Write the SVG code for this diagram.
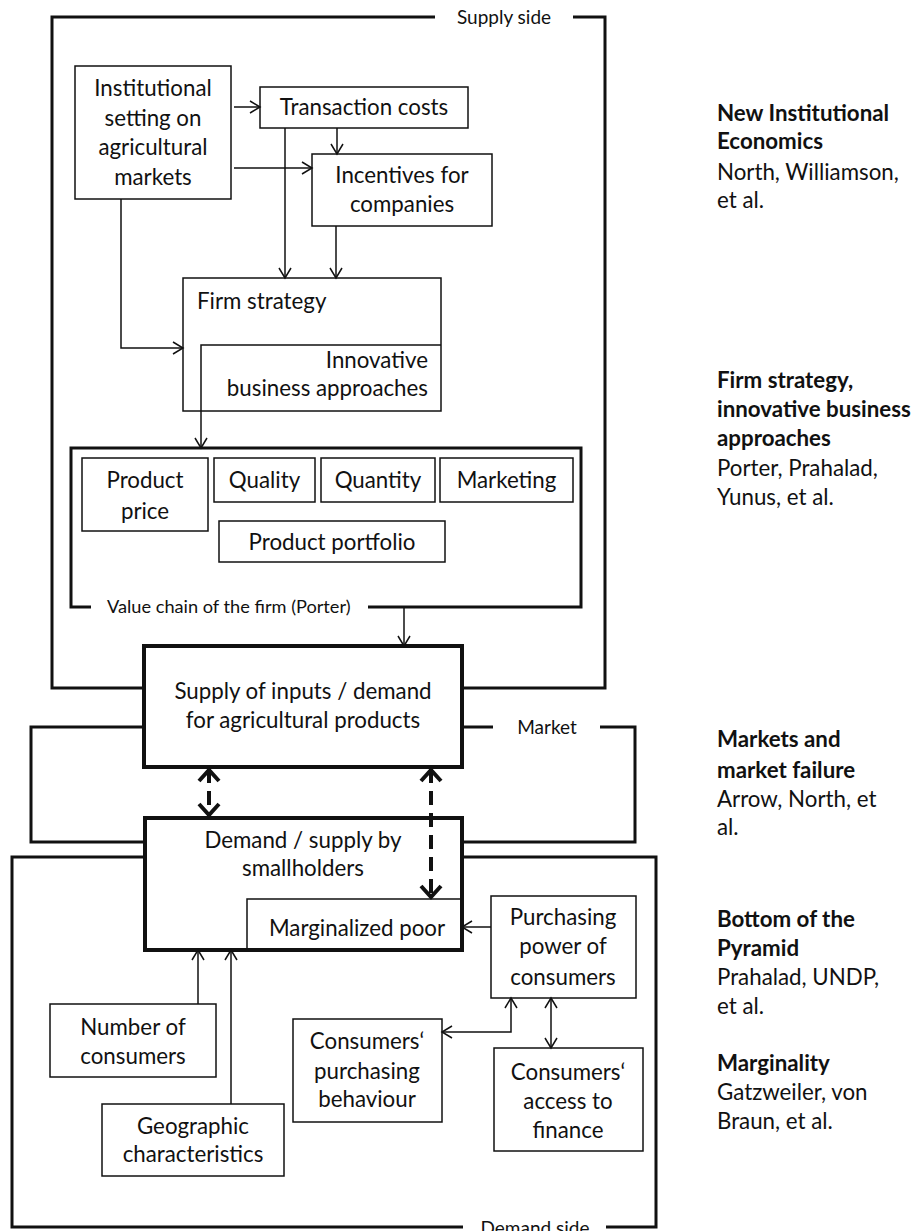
<svg xmlns="http://www.w3.org/2000/svg" width="921" height="1231" viewBox="0 0 921 1231">
<style>
text{font-family:Lato,"Open Sans","Liberation Sans",sans-serif;fill:#111;}
.t{font-size:22.3px;text-anchor:middle;}
.l{font-size:22.3px;}
.r{font-size:22.3px;text-anchor:end;}
.b{font-size:22.3px;font-weight:bold;}
.s{font-size:19px;}
.box{fill:#fff;stroke:#111;stroke-width:1.5;}
.bold{fill:#fff;stroke:#111;stroke-width:4;}
.frame{fill:none;stroke:#111;stroke-width:3;}
.c{fill:none;stroke:#111;stroke-width:1.5;}
.cd{fill:none;stroke:#111;stroke-width:4;stroke-dasharray:14 8;}
</style>
<defs>
<marker id="ah" viewBox="-12 -8 14 16" refX="0" refY="0" markerWidth="14" markerHeight="16" markerUnits="userSpaceOnUse" orient="auto-start-reverse">
<path d="M-10,-6 L0,0 L-10,6" fill="none" stroke="#111" stroke-width="1.5"/>
</marker>
<marker id="ahb" viewBox="-16 -15 20 30" refX="0" refY="0" markerWidth="20" markerHeight="30" markerUnits="userSpaceOnUse" orient="auto-start-reverse">
<path d="M-12,-10 L-1,0 L-12,10" fill="none" stroke="#111" stroke-width="4"/>
</marker>
</defs>

<g id="frames">
<path class="frame" d="M435,17 H52 V688 H144 M573,17 H605 V688 H462"/>
<text class="s" x="504" y="24" text-anchor="middle">Supply side</text>
<path class="frame" d="M144,727 H31 V842 H145 M462,727 H493 M600,727 H635 V842 H462"/>
<text class="s" x="547" y="734" text-anchor="middle">Market</text>
<path class="frame" d="M145,857 H12 V1227 H463 M606,1227 H656 V857 H462"/>
<text class="s" x="535" y="1235" text-anchor="middle">Demand side</text>
</g>

<g id="institutional">
<rect class="box" x="75" y="66" width="156" height="133"/>
<text class="t" x="153" y="96">Institutional</text>
<text class="t" x="153" y="126">setting on</text>
<text class="t" x="153" y="155">agricultural</text>
<text class="t" x="153" y="185">markets</text>
</g>
<g id="transaction">
<rect class="box" x="260" y="87" width="208" height="41"/>
<text class="t" x="364" y="115">Transaction costs</text>
</g>
<g id="incentives">
<rect class="box" x="312" y="154" width="180" height="72"/>
<text class="t" x="402" y="183">Incentives for</text>
<text class="t" x="402" y="212">companies</text>
</g>
<g id="firm-strategy">
<rect class="box" x="183" y="278" width="258" height="133"/>
<text class="l" x="197" y="309">Firm strategy</text>
<path class="c" d="M201,411 V345 H441"/>
<text class="r" x="428" y="368">Innovative</text>
<text class="r" x="428" y="396">business approaches</text>
</g>
<g id="value-chain">
<path class="frame" d="M91,607 H71 V448 H581 V607 H368"/>
<text x="107" y="613" style="font-size:18.2px">Value chain of the firm (Porter)</text>
</g>
<g id="product-price">
<rect class="box" x="82" y="458" width="126" height="73"/>
<text class="t" x="145" y="488">Product</text>
<text class="t" x="145" y="519">price</text>
</g>
<g id="quality">
<rect class="box" x="214" y="458" width="101" height="44"/>
<text class="t" x="264.5" y="488">Quality</text>
</g>
<g id="quantity">
<rect class="box" x="321" y="458" width="114" height="44"/>
<text class="t" x="378" y="488">Quantity</text>
</g>
<g id="marketing">
<rect class="box" x="440" y="458" width="133" height="44"/>
<text class="t" x="506.5" y="488">Marketing</text>
</g>
<g id="product-portfolio">
<rect class="box" x="219" y="521" width="226" height="41"/>
<text class="t" x="332" y="550">Product portfolio</text>
</g>
<g id="supply">
<rect class="bold" x="144" y="646" width="318" height="121"/>
<text class="t" x="303" y="699">Supply of inputs / demand</text>
<text class="t" x="303" y="728">for agricultural products</text>
</g>
<g id="demand">
<rect class="bold" x="145" y="818" width="317" height="132"/>
<text class="t" x="303" y="848">Demand / supply by</text>
<text class="t" x="303" y="876">smallholders</text>
<path class="c" d="M247,948 V899 H460"/>
<text class="t" x="357" y="936">Marginalized poor</text>
</g>
<g id="purchasing-power">
<rect class="box" x="491" y="896" width="145" height="102"/>
<text class="t" x="563" y="925">Purchasing</text>
<text class="t" x="563" y="954">power of</text>
<text class="t" x="563" y="985">consumers</text>
</g>
<g id="number-consumers">
<rect class="box" x="50" y="1004" width="166" height="73"/>
<text class="t" x="133" y="1035">Number of</text>
<text class="t" x="133" y="1064">consumers</text>
</g>
<g id="purchasing-behaviour">
<rect class="box" x="293" y="1019" width="149" height="103"/>
<text class="t" x="367" y="1049">Consumers‘</text>
<text class="t" x="367" y="1079">purchasing</text>
<text class="t" x="367" y="1107">behaviour</text>
</g>
<g id="access-finance">
<rect class="box" x="494" y="1048" width="149" height="103"/>
<text class="t" x="568" y="1080">Consumers‘</text>
<text class="t" x="568" y="1109">access to</text>
<text class="t" x="568" y="1138">finance</text>
</g>
<g id="geographic">
<rect class="box" x="102" y="1104" width="182" height="72"/>
<text class="t" x="193" y="1134">Geographic</text>
<text class="t" x="193" y="1162">characteristics</text>
</g>

<g id="connectors">
<path class="c" d="M234,107 H260" marker-end="url(#ah)"/>
<path class="c" d="M234,168 H312" marker-end="url(#ah)"/>
<path class="c" d="M337,128 V154" marker-end="url(#ah)"/>
<path class="c" d="M285,128 V278" marker-end="url(#ah)"/>
<path class="c" d="M336,226 V278" marker-end="url(#ah)"/>
<path class="c" d="M121,199 V348 H183" marker-end="url(#ah)"/>
<path class="c" d="M201,411 V448" marker-end="url(#ah)"/>
<path class="c" d="M404,607 V646" marker-end="url(#ah)"/>
<path class="cd" d="M209,769 V816" marker-start="url(#ahb)" marker-end="url(#ahb)"/>
<path class="cd" d="M431,769 V898" marker-start="url(#ahb)" marker-end="url(#ahb)"/>
<path class="c" d="M491,927 H462" marker-end="url(#ah)"/>
<path class="c" d="M511,998 V1032 H442" marker-start="url(#ah)" marker-end="url(#ah)"/>
<path class="c" d="M551,998 V1048" marker-start="url(#ah)" marker-end="url(#ah)"/>
<path class="c" d="M198,1004 V950" marker-end="url(#ah)"/>
<path class="c" d="M231,1104 V950" marker-end="url(#ah)"/>
</g>

<g id="theories">
<text class="b" x="717" y="121">New Institutional</text>
<text class="b" x="717" y="149">Economics</text>
<text class="l" x="717" y="180">North, Williamson,</text>
<text class="l" x="717" y="208">et al.</text>
<text class="b" x="717" y="388">Firm strategy,</text>
<text class="b" x="717" y="417">innovative business</text>
<text class="b" x="717" y="446">approaches</text>
<text class="l" x="717" y="476">Porter, Prahalad,</text>
<text class="l" x="717" y="505">Yunus, et al.</text>
<text class="b" x="717" y="747">Markets and</text>
<text class="b" x="717" y="778">market failure</text>
<text class="l" x="717" y="807">Arrow, North, et</text>
<text class="l" x="717" y="835">al.</text>
<text class="b" x="717" y="927">Bottom of the</text>
<text class="b" x="717" y="956">Pyramid</text>
<text class="l" x="717" y="985">Prahalad, UNDP,</text>
<text class="l" x="717" y="1014">et al.</text>
<text class="b" x="717" y="1071">Marginality</text>
<text class="l" x="717" y="1100">Gatzweiler, von</text>
<text class="l" x="717" y="1129">Braun, et al.</text>
</g>
</svg>
